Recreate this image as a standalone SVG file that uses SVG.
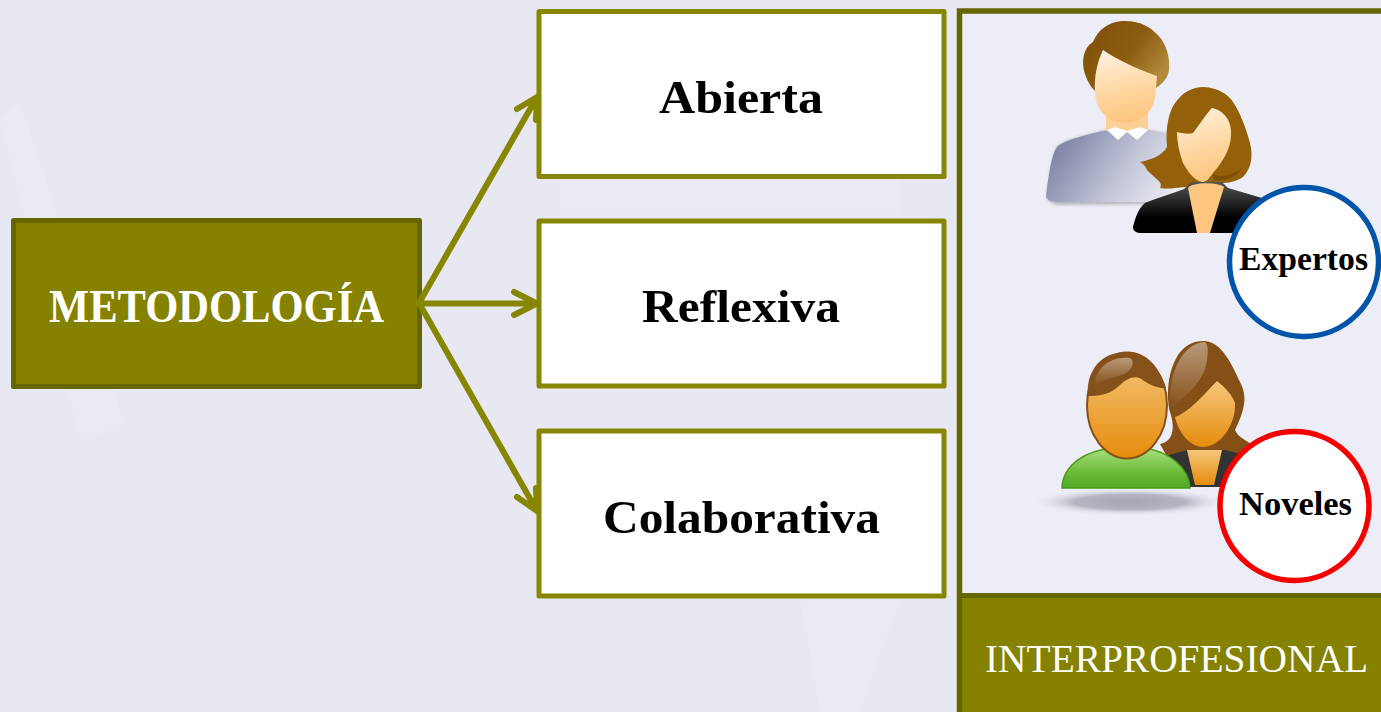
<svg xmlns="http://www.w3.org/2000/svg" width="1381" height="712" viewBox="0 0 1381 712">
<style>
text{font-family:"Liberation Serif","Times New Roman",serif;font-weight:700;fill:#000;text-anchor:start}
.box{fill:#fff;stroke:#868600;stroke-width:5;stroke-linejoin:round}
.big{font-size:47px}
.small{font-size:33px}
.conn{fill:none;stroke:#868600;stroke-width:6;stroke-linecap:round;stroke-linejoin:round}
</style>
<defs>
<linearGradient id="skin" x1="0.4" y1="0" x2="0.6" y2="1"><stop offset="0" stop-color="#ffeeda"/><stop offset=".55" stop-color="#ffd6a0"/><stop offset="1" stop-color="#fcc47c"/></linearGradient>
<linearGradient id="hair" x1="0" y1="0" x2="1" y2="0.6"><stop offset="0" stop-color="#7f4e06"/><stop offset=".6" stop-color="#8c5c10"/><stop offset="1" stop-color="#b18a3c"/></linearGradient>
<linearGradient id="sweater" x1="0" y1="0.4" x2="1" y2="0.8"><stop offset="0" stop-color="#7e82a4"/><stop offset=".6" stop-color="#c3c6d8"/><stop offset="1" stop-color="#e6e7ef"/></linearGradient>
<linearGradient id="jacket" x1="0" y1="0" x2="0" y2="1"><stop offset="0" stop-color="#555"/><stop offset=".7" stop-color="#000"/></linearGradient>
<linearGradient id="orange" x1="0" y1="0" x2="0" y2="1"><stop offset="0" stop-color="#f5c77d"/><stop offset="1" stop-color="#e58c0c"/></linearGradient>
<linearGradient id="green" x1="0" y1="0" x2="0" y2="1"><stop offset="0" stop-color="#a8e080"/><stop offset=".6" stop-color="#6cbc38"/><stop offset="1" stop-color="#52a820"/></linearGradient>
<linearGradient id="hl" x1="0" y1="0" x2="0" y2="1"><stop offset="0" stop-color="#b99a7a"/><stop offset="1" stop-color="#85501a"/></linearGradient>
<radialGradient id="sh"><stop offset="0" stop-color="#a5a6b2"/><stop offset=".55" stop-color="#b4b5c0"/><stop offset="1" stop-color="#ecedf7" stop-opacity="0"/></radialGradient>
<filter id="blur" x="-10%" y="-10%" width="120%" height="120%"><feGaussianBlur stdDeviation="1.5"/></filter>
</defs>
<rect id="background" width="1381" height="712" fill="#e7e8f2"/>
<path d="M0 120L80 440L125 425L20 100Z M560 180L900 180L900 215L560 215Z M800 600L900 600L860 712L820 712Z" fill="#eeeff6" opacity=".3"/>
<rect id="panel-bg" x="960" y="11" width="421" height="585" fill="#ecedf7"/>

<g id="node-metodologia">
<rect x="13.500" y="220.500" width="406" height="166" fill="#848200" stroke="#666600" stroke-width="5" stroke-linejoin="round"/>
<text x="49" y="322" class="big" style="fill:#fff" textLength="335" lengthAdjust="spacingAndGlyphs">METODOLOGÍA</text>
</g>
<g id="node-abierta">
<rect class="box" x="539" y="11.500" width="405" height="165"/>
<text x="659" y="113" class="big" textLength="164" lengthAdjust="spacingAndGlyphs">Abierta</text>
</g>
<g id="node-reflexiva">
<rect class="box" x="539" y="221" width="405" height="165"/>
<text x="642" y="322" class="big" textLength="198" lengthAdjust="spacingAndGlyphs">Reflexiva</text>
</g>
<g id="node-colaborativa">
<rect class="box" x="539" y="431" width="405" height="165"/>
<text x="603" y="533" class="big" textLength="277" lengthAdjust="spacingAndGlyphs">Colaborativa</text>
</g>

<g id="connectors" class="conn">
<path d="M419 303L537 97M517 109L537 97L536 120"/>
<path d="M419 303.500H537M514 292L537 303.500L514 315"/>
<path d="M419 303L537 511M517 497L537 511L536 488"/>
</g>

<g id="node-interprofesional">
<path d="M1381 11H959.500V712" fill="none" stroke="#666600" stroke-width="5.500"/>
<rect x="957" y="593" width="424" height="119" fill="#848200"/>
<path d="M957 595.500H1381M959.500 593V712" stroke="#666600" stroke-width="5" fill="none"/>
<text x="985" y="672" style="font-weight:400;fill:#fff;font-size:40px" textLength="383" lengthAdjust="spacingAndGlyphs">INTERPROFESIONAL</text>
</g>

<g id="icon-expertos">
<path d="M1048 201C1046 196 1050 165 1056 148C1062 140 1090 134 1108 130H1148L1170 134V204L1056 205Z" fill="#555" opacity=".35" filter="url(#blur)"/>
<path d="M1046 197C1048 180 1051 155 1057 147C1063 140 1090 134 1107 130H1146L1172 134V202H1058C1052 202 1047 200 1046 197Z" fill="url(#sweater)"/>
<path d="M1106 112H1148V131H1106Z" fill="#fbd095"/>
<path d="M1107 130L1118 140L1127 132L1137 140L1148 130L1140 127L1127 131L1115 127Z" fill="#fff"/>
<path d="M1096 60C1094 80 1094 98 1098 106C1104 118 1114 123 1125 123C1138 122 1148 116 1153 105C1156 96 1157 84 1157 70C1140 50 1110 44 1096 60Z" fill="url(#skin)"/>
<path d="M1093 42C1083 48 1081 62 1085 74C1088 83 1092 88 1095 91C1094 78 1097 62 1103 50C1118 60 1135 68 1157 76L1156 88C1162 84 1168 78 1169 70C1170 60 1168 50 1162 40C1152 26 1138 20 1122 21C1108 22 1098 30 1093 42Z" fill="url(#hair)"/>
<path d="M1140 162C1150 160 1162 156 1167 147C1165 125 1170 110 1175 103C1183 92 1192 87 1204 87C1218 88 1228 94 1233 102C1240 112 1246 128 1250 143C1253 155 1252 168 1243 177C1236 182 1225 184 1205 184C1190 186 1170 190 1160 188C1164 182 1154 178 1147 170C1146 167 1144 164 1140 162Z" fill="#95600a"/>
<path d="M1177 132C1184 134 1190 134 1193 133C1200 124 1206 114 1212 108C1222 110 1230 118 1231 130C1232 145 1226 158 1213 173C1208 180 1206 182 1202 182C1194 180 1188 172 1183 163C1179 152 1177 142 1177 132Z" fill="url(#skin)"/>
<path d="M1213 174C1222 178 1232 176 1242 168C1234 180 1222 181 1214 180Z" fill="#7f4e06"/>
<path d="M1133 227C1136 215 1139 208 1145 203C1156 198 1172 194 1184 189L1192 182H1222L1228 188L1262 198V233H1142C1136 233 1133 231 1133 227Z" fill="url(#jacket)"/>
<path d="M1188 188C1192 182 1218 182 1224 187L1210 233H1197Z" fill="#fcc680"/>
</g>

<g id="icon-noveles">
<ellipse cx="1130" cy="502" rx="100" ry="14" fill="url(#sh)"/>
<path d="M1160 444C1172 442 1176 430 1170 412C1164 385 1172 341 1203 341C1222 341 1232 365 1240 382C1247 395 1246 408 1235 430C1238 438 1250 442 1260 450L1240 480H1180Z" fill="#855015"/>
<path d="M1170 400C1170 372 1182 344 1204 342C1210 342 1208 362 1204 372C1196 388 1186 396 1172 408Z" fill="url(#hl)"/>
<path d="M1175 417C1190 412 1206 392 1217 381C1226 388 1232 395 1235 403C1236 425 1220 447 1203 447C1190 447 1178 432 1175 417Z" fill="url(#orange)"/>
<path d="M1165 456L1188 450H1225L1245 455L1240 487H1178Z" fill="#333"/>
<path d="M1187 450H1222L1214 485H1195Z" fill="url(#orange)"/>
<path d="M1062 488C1063 465 1085 450 1115 448H1145C1170 452 1189 468 1190 488Z" fill="url(#green)" stroke="#4a9a1a" stroke-width="1.500"/>
<ellipse cx="1127" cy="405.500" rx="40" ry="53" fill="url(#orange)" stroke="#85501a" stroke-width="2"/>
<path d="M1088 396C1086 378 1095 352 1127 352C1148 352 1160 370 1166 388C1160 389 1150 385 1144 381C1136 374 1128 378 1120 385C1110 395 1098 396 1088 396Z" fill="#85501a"/>
<path d="M1094 385C1096 368 1110 356 1130 358C1136 362 1132 370 1124 374C1114 378 1102 380 1094 385Z" fill="url(#hl)"/>
</g>

<g id="badge-expertos">
<circle cx="1304" cy="262" r="74.500" fill="#fff" stroke="#0055aa" stroke-width="5.500"/>
<text x="1239" y="270" class="small" textLength="129" lengthAdjust="spacingAndGlyphs">Expertos</text>
</g>
<g id="badge-noveles">
<circle cx="1294.500" cy="506" r="74.500" fill="#fff" stroke="#f50000" stroke-width="5.500"/>
<text x="1239" y="515" class="small" textLength="113" lengthAdjust="spacingAndGlyphs">Noveles</text>
</g>
</svg>
